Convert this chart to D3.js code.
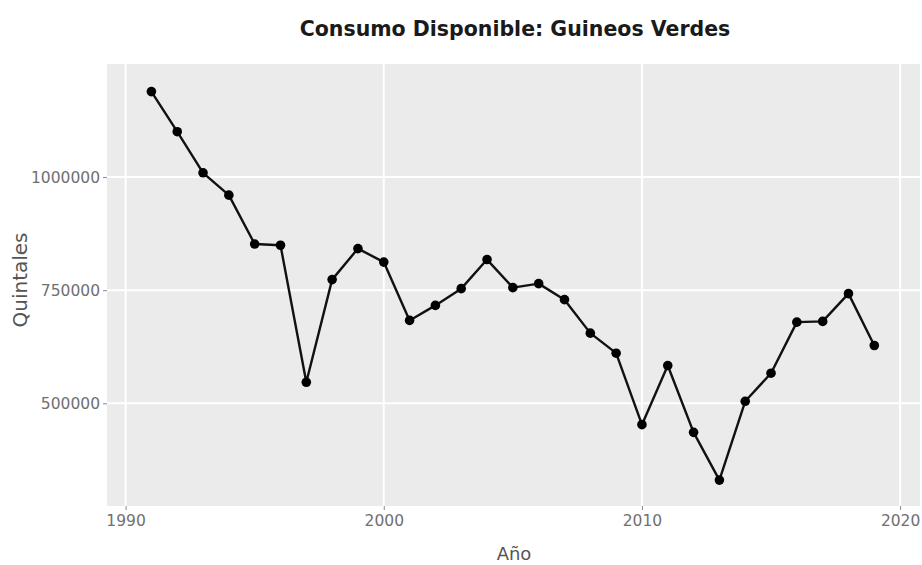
<!DOCTYPE html>
<html>
<head>
<meta charset="utf-8">
<script src="https://cdn.jsdelivr.net/npm/d3@7"></script>
<style>
  html, body { margin: 0; padding: 0; background: #ffffff; }
  svg { display: block; }
</style>
</head>
<body>
<div id="chart"></div>
<script>
const years = [1991,1992,1993,1994,1995,1996,1997,1998,1999,2000,2001,2002,2003,2004,2005,2006,2007,2008,2009,2010,2011,2012,2013,2014,2015,2016,2017,2018,2019];
const quintales = [1189000,1100400,1009500,960100,852000,849400,546500,773400,842000,812100,683200,716400,753400,817700,755600,764500,729100,655100,610800,452800,583500,435800,330300,504400,566500,679400,681000,742400,627800];
const xTicks = [1990,2000,2010,2020];
const yTicks = [500000,750000,1000000];
const titleText = "Consumo Disponible: Guineos Verdes";
const xTitle = "Año";
const yTitle = "Quintales";

const W = 922, H = 565;
const panel = {left: 107, right: 920, top: 64, bottom: 506};

const svg = d3.select("#chart").append("svg").attr("width", W).attr("height", H);

const x = d3.scaleLinear().domain([1989.28, 2020.77]).range([panel.left, panel.right]);
const y = d3.scaleLinear().domain([273000, 1250000]).range([panel.bottom, panel.top]);

svg.append("rect")
  .attr("x", panel.left).attr("y", panel.top)
  .attr("width", panel.right - panel.left).attr("height", panel.bottom - panel.top)
  .attr("fill", "#ebebeb");

// grid
svg.append("g").selectAll("line").data(xTicks).join("line")
  .attr("x1", d => x(d)).attr("x2", d => x(d))
  .attr("y1", panel.top).attr("y2", panel.bottom)
  .attr("stroke", "#ffffff").attr("stroke-width", 2);
svg.append("g").selectAll("line").data(yTicks).join("line")
  .attr("x1", panel.left).attr("x2", panel.right)
  .attr("y1", d => y(d)).attr("y2", d => y(d))
  .attr("stroke", "#ffffff").attr("stroke-width", 2);

// axes
const xAxis = d3.axisBottom(x).tickValues(xTicks).tickFormat(d3.format("d")).tickSize(4).tickPadding(5);
const yAxis = d3.axisLeft(y).tickValues(yTicks).tickFormat(d3.format("d")).tickSize(4).tickPadding(3);

const gx = svg.append("g").attr("transform", `translate(0,${panel.bottom})`).call(xAxis);
const gy = svg.append("g").attr("transform", `translate(${panel.left},0)`).call(yAxis);
[gx, gy].forEach(g => {
  g.select(".domain").remove();
  g.selectAll(".tick line").attr("stroke", "#8a8a8a").attr("stroke-width", 1);
  g.selectAll(".tick text").attr("fill", "#707070")
    .style("font-family", "'DejaVu Sans', sans-serif").style("font-size", "15.5px");
});

// line + points
const line = d3.line().x((d, i) => x(years[i])).y(d => y(d));
svg.append("path").datum(quintales)
  .attr("d", line).attr("fill", "none")
  .attr("stroke", "#111111").attr("stroke-width", 2.4).attr("stroke-linejoin", "round");
svg.append("g").selectAll("circle").data(quintales).join("circle")
  .attr("cx", (d, i) => x(years[i])).attr("cy", d => y(d))
  .attr("r", 4.8).attr("fill", "#000000");

// titles
svg.append("text").attr("x", 515).attr("y", 36).attr("text-anchor", "middle")
  .style("font-family", "'DejaVu Sans', sans-serif").style("font-weight", "bold").style("font-size", "20.5px")
  .attr("fill", "#1a1a1a").text(titleText);
svg.append("text").attr("x", 514).attr("y", 560).attr("text-anchor", "middle")
  .style("font-family", "'DejaVu Sans', sans-serif").style("font-size", "18px")
  .attr("fill", "#555555").text(xTitle);
svg.append("text").attr("transform", `translate(27,280) rotate(-90)`)
  .attr("text-anchor", "middle")
  .style("font-family", "'DejaVu Sans', sans-serif").style("font-size", "20px")
  .attr("fill", "#555555").text(yTitle);
</script>
</body>
</html>
